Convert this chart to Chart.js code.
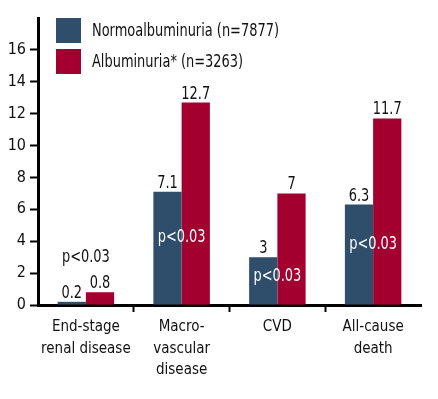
<!DOCTYPE html>
<html>
<head>
<meta charset="utf-8">
<script src="https://cdn.jsdelivr.net/npm/chart.js@4"></script>
<style>
  html, body { margin: 0; padding: 0; background: #fff; }
  #wrap { width: 438px; height: 399px; }
</style>
</head>
<body>
<div id="wrap"><canvas id="chart" width="438" height="399"></canvas></div>
<script>
const categories = [
  ['End-stage', 'renal disease'],
  ['Macro-', 'vascular', 'disease'],
  ['CVD'],
  ['All-cause', 'death']
];
const normoValues = [0.2, 7.1, 3, 6.3];
const albuValues = [0.8, 12.7, 7, 11.7];
const pLabels = ['p<0.03', 'p<0.03', 'p<0.03', 'p<0.03'];
const yTicks = [0, 2, 4, 6, 8, 10, 12, 14, 16];

const FONT = "'Liberation Sans Narrow', 'DejaVu Sans Condensed', 'Arial Narrow', sans-serif";
const BLUE = '#2e4e6b';
const RED = '#a3002f';
const SQUEEZE = 0.8; // the source uses a condensed face, narrow our text a bit

// draw text narrowed horizontally around (x, y)
function narrowText(ctx, txt, x, y) {
  ctx.save();
  ctx.translate(x, y);
  ctx.scale(SQUEEZE, 1);
  ctx.fillText(txt, 0, 0);
  ctx.restore();
}

// legend in the top-left corner of the plot
const cornerLegend = {
  id: 'cornerLegend',
  afterDraw(chart) {
    const { ctx, chartArea } = chart;
    ctx.save();
    ctx.font = '18px ' + FONT;
    ctx.textBaseline = 'middle';
    ctx.textAlign = 'left';
    chart.data.datasets.forEach((ds, i) => {
      const x = chartArea.left + 18;
      const y = chartArea.top + i * 31;
      ctx.fillStyle = ds.backgroundColor;
      ctx.fillRect(x, y, 25, 25);
      ctx.fillStyle = '#111';
      narrowText(ctx, ds.label, x + 36, y + 13);
    });
    ctx.restore();
  }
};

// values on top of bars, p labels in/above the groups
const barLabels = {
  id: 'barLabels',
  afterDatasetsDraw(chart) {
    const { ctx } = chart;
    const m0 = chart.getDatasetMeta(0);
    const m1 = chart.getDatasetMeta(1);
    ctx.save();
    ctx.font = '18px ' + FONT;
    ctx.textAlign = 'center';
    ctx.textBaseline = 'alphabetic';
    ctx.fillStyle = '#111';
    [m0, m1].forEach((meta, d) => {
      meta.data.forEach((bar, i) => {
        narrowText(ctx, String(chart.data.datasets[d].data[i]), bar.x, bar.y - 4);
      });
    });
    pLabels.forEach((txt, i) => {
      const b0 = m0.data[i], b1 = m1.data[i];
      const cx = (b0.x + b1.x) / 2;
      const base = b0.base;
      const low = Math.max(b0.y, b1.y);
      if (base - low < 30) {
        ctx.fillStyle = '#111';
        narrowText(ctx, txt, cx, Math.min(b0.y, b1.y) - 30);
      } else {
        ctx.fillStyle = '#fff';
        ctx.textBaseline = 'middle';
        narrowText(ctx, txt, cx, base - (base - low) * 0.6);
        ctx.textBaseline = 'alphabetic';
      }
    });
    ctx.restore();
  }
};

new Chart(document.getElementById('chart'), {
  type: 'bar',
  data: {
    labels: categories,
    datasets: [
      { label: 'Normoalbuminuria (n=7877)', data: normoValues, backgroundColor: BLUE },
      { label: 'Albuminuria* (n=3263)', data: albuValues, backgroundColor: RED }
    ]
  },
  options: {
    responsive: false,
    animation: false,
    layout: { padding: { left: 0, right: 17, top: 18, bottom: 0 } },
    datasets: { bar: { categoryPercentage: 0.59, barPercentage: 1 } },
    plugins: { legend: { display: false }, tooltip: { enabled: false } },
    scales: {
      x: {
        afterFit(scale) { scale.height = 94; },
        border: { color: '#000', width: 3 },
        grid: {
          offset: true,
          drawOnChartArea: false,
          tickLength: 7,
          tickWidth: 2,
          // only the separators between groups, not the two ends
          tickColor: ctx => (ctx.index > 0 && ctx.index < categories.length) ? '#000' : 'rgba(0,0,0,0)'
        },
        ticks: {
          color: '#111',
          padding: 4,
          autoSkip: false,
          maxRotation: 0,
          font: { family: FONT, size: 15, lineHeight: 1.45 }
        }
      },
      y: {
        min: 0,
        max: 18,
        afterFit(scale) { scale.width = 38; },
        afterBuildTicks(scale) { scale.ticks = yTicks.map(v => ({ value: v })); },
        border: { color: '#000', width: 3 },
        grid: { drawOnChartArea: false, tickLength: 8, tickWidth: 2, tickColor: '#000' },
        ticks: {
          color: '#111',
          padding: 4,
          font: { family: FONT, size: 16 }
        }
      }
    }
  },
  plugins: [cornerLegend, barLabels]
});
</script>
</body>
</html>
